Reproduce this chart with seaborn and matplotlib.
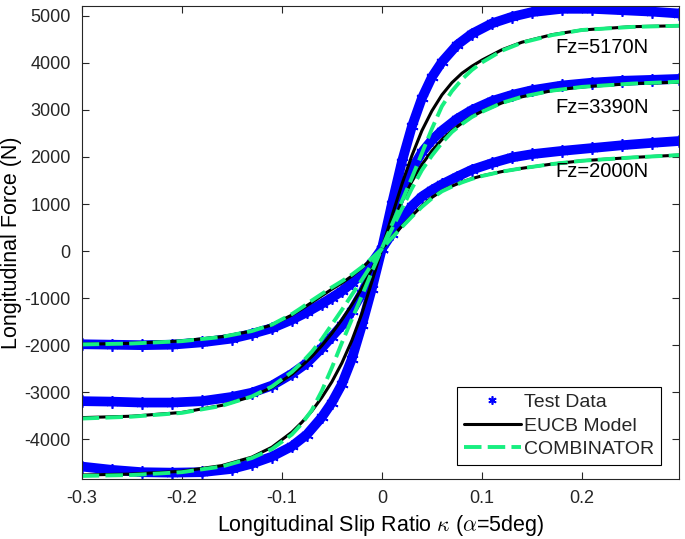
"""
Longitudinal force vs slip ratio: test data against EUCB and COMBINATOR models.
"""

import matplotlib
matplotlib.use('Agg')
import matplotlib.pyplot as plt
import seaborn as sns

# slip ratios of the measured points
kappa_test = [-0.30, -0.27, -0.24, -0.21, -0.18, -0.15, -0.13, -0.11, -0.09, -0.075,
              -0.06, -0.05, -0.04, -0.03, -0.02, -0.01, 0.0, 0.01, 0.02, 0.03,
              0.04, 0.05, 0.06, 0.075, 0.09, 0.11, 0.13, 0.15, 0.18, 0.21,
              0.24, 0.27, 0.297]

test_5170 = [-4580, -4650, -4700, -4710, -4700, -4630, -4520, -4370, -4150, -3900,
             -3530, -3220, -2830, -2290, -1580, -800, 50, 1000, 1900, 2650,
             3250, 3700, 4020, 4380, 4620, 4840, 4980, 5080, 5150, 5150,
             5120, 5090, 5050]
test_3390 = [-3190, -3200, -3220, -3220, -3190, -3100, -3010, -2860, -2610, -2380,
             -2060, -1820, -1580, -1270, -900, -450, 50, 650, 1250, 1740,
             2100, 2360, 2560, 2810, 3000, 3190, 3320, 3420, 3520, 3580,
             3620, 3640, 3660]
test_2000 = [-1980, -1990, -2000, -1990, -1940, -1860, -1760, -1640, -1460, -1300,
             -1120, -990, -850, -680, -480, -250, 50, 370, 680, 960,
             1160, 1300, 1420, 1580, 1730, 1870, 1990, 2060, 2130, 2190,
             2250, 2300, 2340]

# slip ratios of the model curves
kappa_model = [-0.30, -0.25, -0.20, -0.16, -0.13, -0.11, -0.09, -0.08, -0.07, -0.06,
               -0.05, -0.04, -0.03, -0.02, -0.01, 0.0, 0.01, 0.02, 0.03, 0.04,
               0.05, 0.06, 0.07, 0.08, 0.09, 0.10, 0.12, 0.14, 0.17, 0.20,
               0.25, 0.297]

eucb_5170 = [-4760, -4740, -4680, -4560, -4380, -4170, -3850, -3640, -3400, -3110,
             -2780, -2380, -1900, -1330, -650, 50, 740, 1420, 2030, 2560,
             2980, 3320, 3580, 3780, 3930, 4060, 4280, 4440, 4600, 4700,
             4770, 4790]
eucb_3390 = [-3540, -3510, -3430, -3280, -3090, -2900, -2620, -2440, -2240, -2010,
             -1750, -1460, -1140, -790, -380, 50, 560, 1050, 1480, 1840,
             2130, 2370, 2560, 2720, 2860, 2970, 3150, 3280, 3410, 3490,
             3560, 3590]
eucb_2000 = [-1980, -1960, -1910, -1820, -1700, -1570, -1360, -1230, -1090, -950,
             -810, -680, -530, -360, -160, 50, 290, 530, 750, 960,
             1140, 1280, 1380, 1470, 1540, 1600, 1690, 1760, 1850, 1920,
             1990, 2040]

comb_5170 = [-4780, -4760, -4700, -4580, -4400, -4210, -3900, -3670, -3380, -2970,
             -2480, -1950, -1450, -950, -440, 60, 560, 1060, 1560, 2080,
             2600, 3080, 3400, 3650, 3850, 4010, 4260, 4430, 4590, 4700,
             4765, 4790]
comb_3390 = [-3560, -3520, -3440, -3290, -3090, -2880, -2570, -2370, -2140, -1870,
             -1560, -1250, -930, -610, -280, 50, 470, 900, 1330, 1720,
             2030, 2300, 2530, 2700, 2850, 2960, 3150, 3280, 3410, 3490,
             3560, 3600]
comb_2000 = [-1985, -1965, -1915, -1825, -1700, -1565, -1340, -1200, -1050, -910,
             -770, -640, -500, -340, -150, 50, 280, 510, 730, 940,
             1120, 1270, 1370, 1460, 1535, 1595, 1690, 1760, 1850, 1920,
             1990, 2040]

load_labels = ['Fz=5170N', 'Fz=3390N', 'Fz=2000N']
label_pos = [(0.173, 4330), (0.173, 3050), (0.173, 1700)]

BLUE = '#0000ff'
GREEN = '#17ef80'
AXC = '#262626'

sns.set_theme(style='ticks')
plt.rcParams['font.family'] = ['Liberation Sans', 'DejaVu Sans']
plt.rcParams['mathtext.fontset'] = 'cm'
plt.rcParams['axes.unicode_minus'] = False

fig = plt.figure(figsize=(6.85, 5.39), dpi=100)
ax = fig.add_axes([0.1193, 0.1113, 0.872, 0.8776])

tests = [test_5170, test_3390, test_2000]
eucbs = [eucb_5170, eucb_3390, eucb_2000]
combs = [comb_5170, comb_3390, comb_2000]

# measured data: a dense band of asterisks
for f in tests:
    sns.lineplot(x=kappa_test, y=f, ax=ax, color=BLUE, lw=7, sort=False,
                 estimator=None)
    sns.lineplot(x=kappa_test, y=f, ax=ax, color=BLUE, linestyle='none',
                 marker=(6, 2, 0), markersize=9, markeredgecolor=BLUE,
                 markeredgewidth=1.2, sort=False, estimator=None)
test_handle = ax.lines[-1]

for f in eucbs:
    sns.lineplot(x=kappa_model, y=f, ax=ax, color='black', lw=2.2, sort=False,
                 estimator=None)
eucb_handle = ax.lines[-1]

for f in combs:
    sns.lineplot(x=kappa_model, y=f, ax=ax, color=GREEN, lw=2.8, sort=False,
                 estimator=None, linestyle=(0, (4.5, 1.6)))
comb_handle = ax.lines[-1]

for txt, (x, y) in zip(load_labels, label_pos):
    ax.text(x, y, txt, fontsize=14.5, ha='left', va='center', color='black')

ax.set_xlim(-0.3, 0.297)
ax.set_ylim(-4845, 5210)
ax.set_xticks([-0.3, -0.2, -0.1, 0, 0.1, 0.2])
ax.set_xticklabels(['-0.3', '-0.2', '-0.1', '0', '0.1', '0.2'])
ax.set_yticks(range(-4000, 5001, 1000))
ax.tick_params(direction='in', length=5, width=0.8, top=True, right=True,
               labelsize=13, colors=AXC, pad=8)
for s in ax.spines.values():
    s.set_visible(True)
    s.set_color(AXC)
    s.set_linewidth(0.8)

ax.set_xlabel(r'Longitudinal Slip Ratio $\kappa$ ($\alpha$=5deg)', fontsize=15.5,
              color='black', labelpad=4)
ax.set_ylabel('Longitudinal Force (N)', fontsize=15.5, color='black', labelpad=2)

leg = ax.legend([test_handle, eucb_handle, comb_handle],
                ['Test Data', 'EUCB Model', 'COMBINATOR'],
                loc='lower right', bbox_to_anchor=(0.969, 0.03), borderaxespad=0,
                fontsize=14, frameon=True, fancybox=False, handlelength=2.9,
                handletextpad=0.15, borderpad=0.35, labelspacing=0.3)
leg.get_frame().set_edgecolor('black')
leg.get_frame().set_linewidth(0.8)
leg.get_frame().set_alpha(1)
leg.legend_handles[0].set_markersize(6)

fig.savefig('out.png', dpi=100)
plt.close(fig)
